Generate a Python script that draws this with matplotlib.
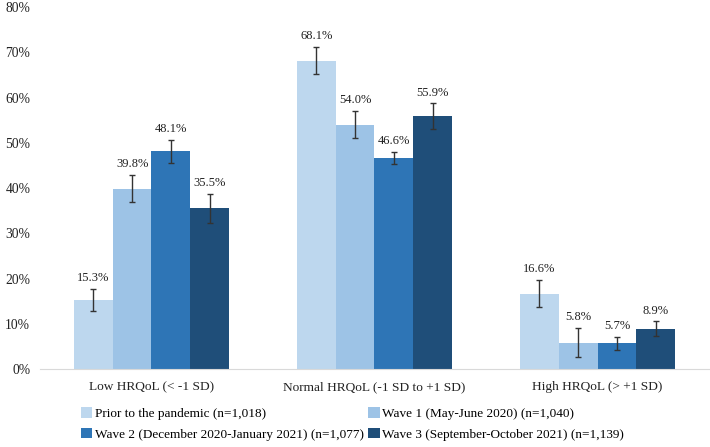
import numpy as np
import matplotlib.pyplot as plt

plt.rcParams['font.family'] = ['Liberation Serif', 'DejaVu Serif']

categories = ['Low HRQoL (< -1 SD)', 'Normal HRQoL (-1 SD to +1 SD)', 'High HRQoL (> +1 SD)']
series = ['Prior to the pandemic (n=1,018)',
          'Wave 1 (May-June 2020) (n=1,040)',
          'Wave 2 (December 2020-January 2021) (n=1,077)',
          'Wave 3 (September-October 2021) (n=1,139)']
values = [[15.3, 68.1, 16.6],
          [39.8, 54.0, 5.8],
          [48.1, 46.6, 5.7],
          [35.5, 55.9, 8.9]]
errors = [[2.4, 3.0, 3.0],
          [3.0, 3.0, 3.2],
          [2.5, 1.4, 1.4],
          [3.2, 2.8, 1.6]]
colors = ['#BDD7EE', '#9DC3E6', '#2E75B6', '#1F4E79']

fig = plt.figure(figsize=(7.1, 4.47), dpi=100)
ax = fig.add_axes([0.0563, 0.1745, 0.9423, 0.8098])

x = np.arange(len(categories))
w = 0.174
handles = []
for i in range(4):
    pos = x + (i - 1.5) * w
    b = ax.bar(pos, values[i], w, color=colors[i], label=series[i])
    handles.append(b)
    ax.errorbar(pos, values[i], yerr=errors[i], fmt='none', ecolor='#333333',
                elinewidth=1, capsize=2.5, capthick=1)
    for p, v, e in zip(pos, values[i], errors[i]):
        ax.annotate(f'{v:.1f}%', (p, v + e), xytext=(0, 3.5), textcoords='offset points',
                    ha='center', va='bottom', fontsize=9, color='#222222')

ax.set_xlim(-0.5, 2.5)
ax.set_ylim(0, 80)
ax.set_yticks(np.arange(0, 81, 10))
ax.set_yticklabels([f'{t}%' for t in range(0, 81, 10)])
ax.set_xticks(x)
ax.set_xticklabels(categories)
ax.tick_params(axis='both', length=0, colors='#222222')
ax.tick_params(axis='x', pad=9, labelsize=9.6)
ax.tick_params(axis='y', pad=7, labelsize=9.8)
for s in ['top', 'right', 'left']:
    ax.spines[s].set_visible(False)
ax.spines['bottom'].set_color('#D9D9D9')

# row-wise order like the original
order = [0, 2, 1, 3]
fig.legend([handles[k] for k in order], [series[k] for k in order],
           loc='upper left', bbox_to_anchor=(0.114, 0.089), ncol=2, frameon=False,
           fontsize=9.5, handlelength=0.85, handleheight=0.85, handletextpad=0.2,
           columnspacing=0.35, labelspacing=0.6, borderaxespad=0, borderpad=0)

fig.savefig('out.png', dpi=100)
